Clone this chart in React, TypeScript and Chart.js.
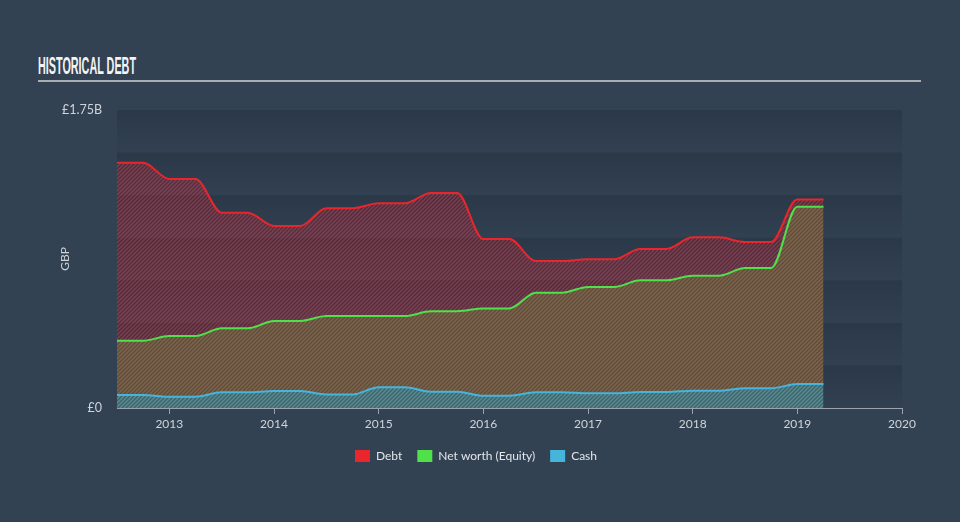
import React, { useEffect, useLayoutEffect, useRef } from 'react';
import { Chart, registerables } from 'chart.js';

Chart.register(...registerables);

const dates = [
  2012.5, 2012.75, 2013.0, 2013.25, 2013.5, 2013.75, 2014.0, 2014.25,
  2014.5, 2014.75, 2015.0, 2015.25, 2015.5, 2015.75, 2016.0, 2016.25,
  2016.5, 2016.75, 2017.0, 2017.25, 2017.5, 2017.75, 2018.0, 2018.25,
  2018.5, 2018.75, 2019.0, 2019.25,
];
// values in billions of GBP
const debt = [
  1.44, 1.44, 1.345, 1.345, 1.147, 1.147, 1.069, 1.069,
  1.173, 1.173, 1.202, 1.202, 1.262, 1.262, 0.992, 0.992,
  0.863, 0.863, 0.873, 0.873, 0.934, 0.934, 1.002, 1.002,
  0.975, 0.975, 1.225, 1.225,
];
const equity = [
  0.395, 0.395, 0.423, 0.423, 0.468, 0.468, 0.511, 0.511,
  0.54, 0.54, 0.54, 0.54, 0.568, 0.568, 0.585, 0.585,
  0.677, 0.677, 0.711, 0.711, 0.75, 0.75, 0.777, 0.777,
  0.822, 0.822, 1.182, 1.182,
];
const cash = [
  0.076, 0.076, 0.066, 0.066, 0.092, 0.092, 0.1, 0.1,
  0.08, 0.08, 0.122, 0.122, 0.096, 0.096, 0.072, 0.072,
  0.092, 0.092, 0.086, 0.086, 0.094, 0.094, 0.102, 0.102,
  0.116, 0.116, 0.141, 0.141,
];
const seriesNames = ['Debt', 'Net worth (Equity)', 'Cash'];
const xTickYears = [2013, 2014, 2015, 2016, 2017, 2018, 2019, 2020];
const yTickValues = [0, 1.75];
const bandValues = [0, 0.25, 0.5, 0.75, 1.0, 1.25, 1.5, 1.75];

const lineColors = ['#e8262b', '#4fe04a', '#45b5dc'];
// hatch: [base fill, stripe colour, stripe width]
const hatchBase = ['rgba(0,0,0,0)', 'rgba(76,86,72,0.95)', 'rgba(72,98,104,0.95)'];
const hatchStripe = ['rgba(225,45,60,0.62)', 'rgba(142,94,64,1)', 'rgba(82,142,148,1)'];
const hatchWidths = [1.5, 1.5, 1.5];
const fillTargets = [1, 2, 'origin'];
const textColor = '#cfd4da';
const axisColor = '#9aa3ad';
const FONT = 'Lato, "Open Sans", sans-serif';

function makeHatch(ctx: CanvasRenderingContext2D, base: string, color: string, lw: number) {
  const c = document.createElement('canvas');
  c.width = 4;
  c.height = 4;
  const g = c.getContext('2d')!;
  g.fillStyle = base;
  g.fillRect(0, 0, 4, 4);
  g.strokeStyle = color;
  g.lineWidth = lw;
  g.beginPath();
  g.moveTo(-1, 5);
  g.lineTo(5, -1);
  g.moveTo(-1, 1);
  g.lineTo(1, -1);
  g.moveTo(3, 5);
  g.lineTo(5, 3);
  g.stroke();
  return ctx.createPattern(c, 'repeat');
}

const bandsPlugin = {
  id: 'bands',
  beforeDraw(chart: any) {
    const { ctx, chartArea, scales } = chart;
    const y = scales.y;
    ctx.save();
    for (let i = 0; i < bandValues.length - 1; i++) {
      const bottom = y.getPixelForValue(bandValues[i]);
      const top = y.getPixelForValue(bandValues[i + 1]);
      const grad = ctx.createLinearGradient(0, top, 0, bottom);
      grad.addColorStop(0, 'rgba(10,18,30,0.2)');
      grad.addColorStop(1, 'rgba(10,18,30,0.02)');
      ctx.fillStyle = grad;
      ctx.fillRect(chartArea.left, top, chartArea.right - chartArea.left, bottom - top);
    }
    ctx.restore();
  },
};

export default function App() {
  const canvasRef = useRef<HTMLCanvasElement | null>(null);
  const titleRef = useRef<HTMLSpanElement | null>(null);

  useLayoutEffect(() => {
    const el = titleRef.current;
    if (el) {
      const w = el.getBoundingClientRect().width;
      if (w > 0) el.style.transform = `scaleX(${98 / w})`;
    }
  }, []);

  useEffect(() => {
    const canvas = canvasRef.current!;
    const ctx = canvas.getContext('2d')!;
    const seriesValues = [debt, equity, cash];
    const datasets = seriesValues.map((vals, i) => ({
      label: seriesNames[i],
      data: vals.map((v, k) => ({ x: dates[k], y: v })),
      borderColor: lineColors[i],
      backgroundColor: makeHatch(ctx, hatchBase[i], hatchStripe[i], hatchWidths[i]) as any,
      borderWidth: 2,
      pointRadius: 0,
      fill: fillTargets[i] as any,
      cubicInterpolationMode: 'monotone' as const,
    }));

    const chart = new Chart(canvas, {
      type: 'line',
      data: { datasets },
      plugins: [bandsPlugin],
      options: {
        animation: false,
        responsive: false,
        layout: { padding: { left: 50, right: 58, top: 110, bottom: 50 } },
        plugins: {
          filler: { drawTime: 'beforeDatasetsDraw' },
          tooltip: { enabled: false },
          legend: {
            position: 'bottom',
            labels: {
              boxWidth: 15,
              boxHeight: 12,
              padding: 15,
              color: '#e2e5e9',
              font: { family: FONT, size: 12 },
              generateLabels: (ch: any) =>
                ch.data.datasets.map((ds: any, i: number) => ({
                  text: ds.label,
                  fillStyle: lineColors[i],
                  strokeStyle: lineColors[i],
                  lineWidth: 0,
                  hidden: false,
                  datasetIndex: i,
                  fontColor: '#e2e5e9',
                })),
            },
          },
        },
        scales: {
          x: {
            type: 'linear',
            min: 2012.5,
            max: 2020,
            afterBuildTicks: (s: any) => {
              s.ticks = xTickYears.map((v) => ({ value: v }));
            },
            afterFit: (s: any) => {
              s.height = 27;
            },
            ticks: {
              callback: (v: any) => String(v),
              color: textColor,
              font: { family: FONT, size: 12 },
              padding: 3,
              maxRotation: 0,
              autoSkip: false,
            },
            grid: { drawOnChartArea: false, drawTicks: true, tickLength: 6, color: axisColor },
            border: { display: true, color: axisColor, width: 1 },
          },
          y: {
            min: 0,
            max: 1.75,
            afterBuildTicks: (s: any) => {
              s.ticks = yTickValues.map((v) => ({ value: v }));
            },
            afterFit: (s: any) => {
              s.width = 67;
            },
            ticks: {
              callback: (v: any) => (v === 0 ? '£0' : `£${v}B`),
              color: textColor,
              font: { family: FONT, size: 12.5 },
              padding: 15,
            },
            grid: { display: false, drawTicks: false },
            border: { display: false },
            title: {
              display: true,
              text: 'GBP',
              color: textColor,
              font: { family: FONT, size: 12 },
              padding: { top: 8, bottom: 0 },
            },
          },
        },
      },
    });
    return () => chart.destroy();
  }, []);

  return (
    <div
      style={{
        position: 'fixed',
        left: 0,
        top: 0,
        width: 960,
        height: 522,
        background: '#334253',
        overflow: 'hidden',
      }}
    >
      <div style={{ position: 'absolute', left: 38, top: 55, whiteSpace: 'nowrap' }}>
        <span
          ref={titleRef}
          style={{
            display: 'inline-block',
            transformOrigin: 'left top',
            fontFamily: '"Liberation Sans Narrow", "Liberation Sans", sans-serif',
            fontWeight: 700,
            fontSize: 23,
            lineHeight: 1,
            color: '#f2f3f5',
          }}
        >
          HISTORICAL DEBT
        </span>
      </div>
      <div
        style={{ position: 'absolute', left: 38, top: 80, width: 883, height: 2, background: '#a9aeb5' }}
      />
      <canvas ref={canvasRef} width={960} height={522} style={{ position: 'absolute', left: 0, top: 0 }} />
    </div>
  );
}
